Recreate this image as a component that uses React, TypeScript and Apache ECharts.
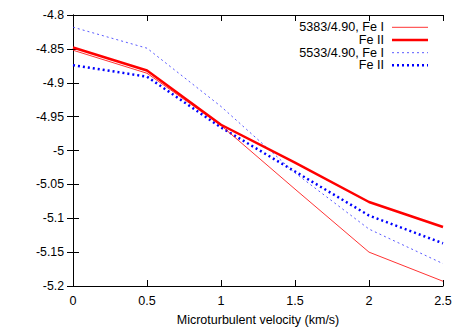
import React, { useEffect, useRef } from "react";
import * as echarts from "echarts";

const velocities = [0, 0.5, 1, 1.5, 2, 2.5];
const fe1_5383 = [-4.852, -4.886, -4.963, -5.057, -5.15, -5.193];
const fe2_5383 = [-4.848, -4.882, -4.962, -5.018, -5.076, -5.113];
const fe1_5533 = [-4.818, -4.849, -4.935, -5.033, -5.116, -5.167];
const fe2_5533 = [-4.874, -4.891, -4.966, -5.031, -5.096, -5.137];
const legendLabels = ["5383/4.90, Fe I", "Fe II", "5533/4.90, Fe I", "Fe II"];
const xTitle = "Microturbulent velocity (km/s)";

const FONT = "'Liberation Sans', Arial, sans-serif";

export default function App() {
  const ref = useRef<HTMLDivElement>(null);
  useEffect(() => {
    if (!ref.current) return;
    const chart = echarts.init(ref.current, null, { renderer: "svg" });
    const styles = [
      { color: "rgba(255,0,0,0.8)", width: 1, type: "solid" as any },
      { color: "#ff0000", width: 2.5, type: "solid" as any },
      { color: "rgba(60,60,255,0.85)", width: 1, type: [2, 3] as any },
      { color: "#0000ff", width: 2.5, type: [2, 3] as any },
    ];
    const datasets = [fe1_5383, fe2_5383, fe1_5533, fe2_5533];
    const series = datasets.map((vals, i) => ({
      type: "line",
      name: legendLabels[i] + "#" + i,
      data: vals.map((v, j) => [velocities[j], v]),
      symbol: "none",
      lineStyle: styles[i],
      z: 10 - i,
    }));
    const rowY = [27.3, 40, 52.7, 65.3];
    const graphics: any[] = [];
    legendLabels.forEach((lab, i) => {
      graphics.push({
        type: "text",
        x: 384,
        y: rowY[i],
        style: {
          text: lab,
          align: "right",
          verticalAlign: "middle",
          fontFamily: FONT,
          fontSize: 12.6,
          lineHeight: 12,
          fill: "#000",
        },
      });
      graphics.push({
        type: "line",
        shape: { x1: 392, y1: rowY[i], x2: 428, y2: rowY[i] },
        style: {
          stroke: styles[i].color,
          lineWidth: styles[i].width,
          lineDash: Array.isArray(styles[i].type) ? styles[i].type : null,
        },
      });
    });
    const fmt = (v: number) => String(parseFloat(v.toFixed(2)));
    const axisCommon = {
      axisLine: { show: true, lineStyle: { color: "#000", width: 1 } },
      axisTick: { show: true, inside: true, length: 6, lineStyle: { color: "#000" } },
      splitLine: { show: false },
    };
    chart.setOption({
      animation: false,
      textStyle: { fontFamily: FONT },
      grid: { left: 73, right: 20, top: 15, bottom: 42 },
      xAxis: [
        {
          type: "value",
          min: 0,
          max: 2.5,
          interval: 0.5,
          position: "bottom",
          ...axisCommon,
          axisLabel: { color: "#000", fontSize: 12.6, margin: 8, formatter: fmt, fontFamily: FONT },
          name: xTitle,
          nameLocation: "middle",
          nameGap: 27,
          nameTextStyle: { color: "#000", fontSize: 12.5, fontFamily: FONT },
        },
        {
          type: "value",
          min: 0,
          max: 2.5,
          interval: 0.5,
          position: "top",
          ...axisCommon,
          axisLabel: { show: false },
        },
      ],
      yAxis: [
        {
          type: "value",
          min: -5.2,
          max: -4.8,
          interval: 0.05,
          position: "left",
          ...axisCommon,
          axisLabel: { color: "#000", fontSize: 12.3, margin: 9, formatter: fmt, fontFamily: FONT },
        },
        {
          type: "value",
          min: -5.2,
          max: -4.8,
          interval: 0.05,
          position: "right",
          ...axisCommon,
          axisLabel: { show: false },
        },
      ],
      series,
      graphic: graphics,
    });
    return () => chart.dispose();
  }, []);
  return (
    <div
      ref={ref}
      style={{ position: "absolute", left: 0, top: 0, width: 463, height: 331, background: "#fff" }}
    />
  );
}
